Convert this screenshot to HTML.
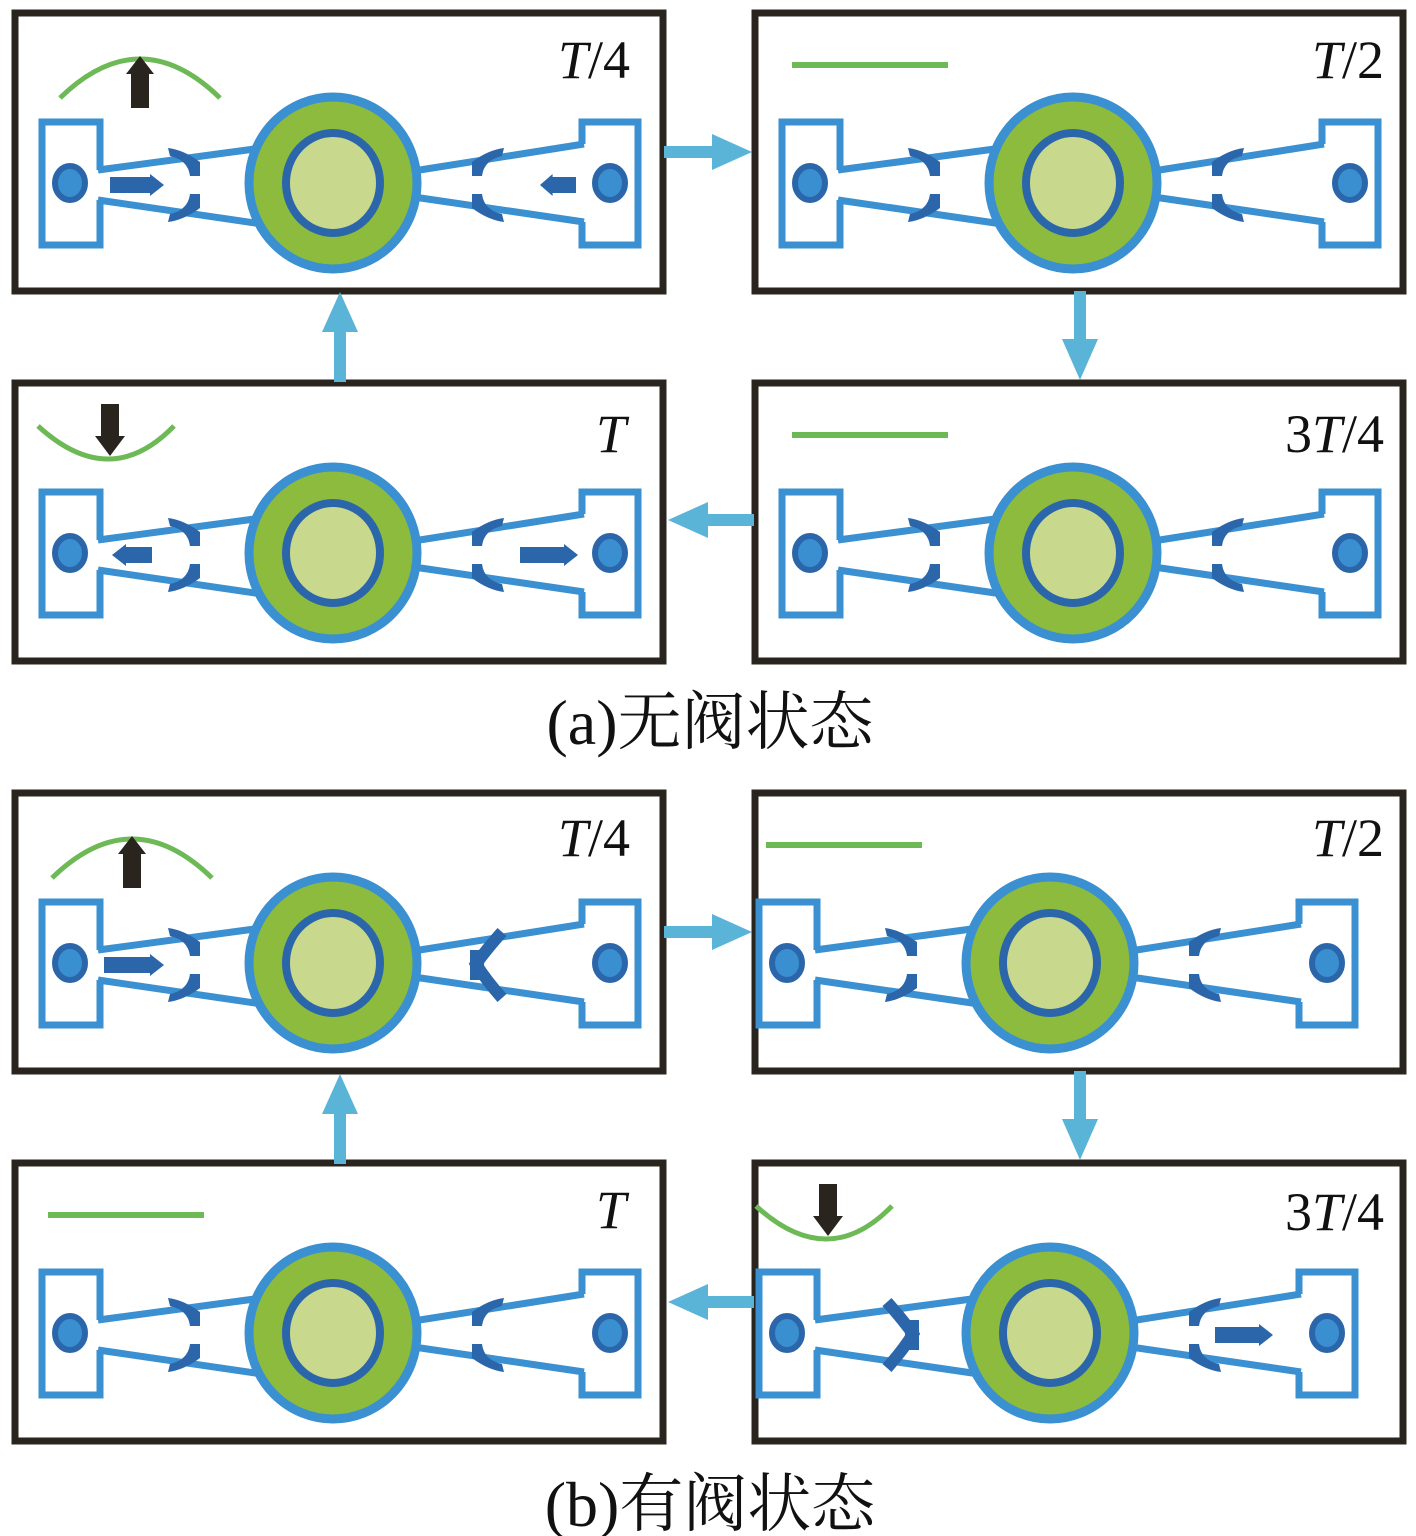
<!DOCTYPE html>
<html><head><meta charset="utf-8"><style>
html,body{margin:0;padding:0;background:#fff;width:1416px;height:1536px;overflow:hidden}
svg{display:block}
.lbl{font-family:"Liberation Serif",serif;font-size:54px;fill:#111}
.cap{font-family:"Liberation Serif","Noto Serif CJK SC",serif;font-size:64px;fill:#111}
</style></head><body>
<svg id="s" width="1416" height="1536" viewBox="0 0 1416 1536" xmlns="http://www.w3.org/2000/svg">
<defs>
<clipPath id="pc"><rect x="0" y="0" width="648" height="278"/></clipPath>
</defs>
<g id="panels"></g>
<g fill="#5ab4d8" stroke="none">
  <rect x="664" y="146" width="50" height="12"/><polygon points="712,134 752,152 712,170"/>
  <rect x="1074" y="291" width="12" height="50"/><polygon points="1062,339 1080,380 1098,339"/>
  <rect x="706" y="514" width="48" height="12"/><polygon points="708,502 668,520 708,538"/>
  <rect x="334" y="330" width="12" height="52"/><polygon points="322,332 340,292 358,332"/>
  <rect x="664" y="926" width="50" height="12"/><polygon points="712,914 752,932 712,950"/>
  <rect x="1074" y="1071" width="12" height="50"/><polygon points="1062,1119 1080,1160 1098,1119"/>
  <rect x="706" y="1296" width="48" height="12"/><polygon points="708,1284 668,1302 708,1320"/>
  <rect x="334" y="1112" width="12" height="52"/><polygon points="322,1114 340,1074 358,1114"/>
</g>
<text class="lbl" x="630" y="78" text-anchor="end"><tspan font-style="italic">T</tspan>/4</text>
<text class="lbl" x="1384" y="78" text-anchor="end"><tspan font-style="italic">T</tspan>/2</text>
<text class="lbl" x="1384" y="452" text-anchor="end">3<tspan font-style="italic">T</tspan>/4</text>
<text class="lbl" x="626" y="452" text-anchor="end"><tspan font-style="italic">T</tspan></text>
<text class="lbl" x="630" y="856" text-anchor="end"><tspan font-style="italic">T</tspan>/4</text>
<text class="lbl" x="1384" y="856" text-anchor="end"><tspan font-style="italic">T</tspan>/2</text>
<text class="lbl" x="1384" y="1230" text-anchor="end">3<tspan font-style="italic">T</tspan>/4</text>
<text class="lbl" x="626" y="1228" text-anchor="end"><tspan font-style="italic">T</tspan></text>
<text class="cap" x="710" y="744" text-anchor="middle">(a)无阀状态</text>
<text class="cap" x="710" y="1526" text-anchor="middle">(b)有阀状态</text>
</svg>
<script>
var NS="http://www.w3.org/2000/svg";
var LB="#3a90d0",DB="#2b66aa",GR="#8cbb3e",LG="#c8d98e",MG="#6cb956",BK="#2a241f";
function el(p,t,a){var e=document.createElementNS(NS,t);for(var k in a)e.setAttribute(k,a[k]);p.appendChild(e);return e;}
function valve(g,x,side,state){
  var s=side;
  if(state==="open"){
    el(g,"path",{d:"M"+(x-12*s)+",146 Q"+(x+6*s)+",150 "+(x+8*s)+",166 L"+(x+18*s)+",166 L"+(x+18*s)+",152 Q"+(x+2*s)+",140 "+(x-14*s)+",138 Z",fill:DB});
    el(g,"path",{d:"M"+(x-12*s)+",204 Q"+(x+6*s)+",200 "+(x+8*s)+",184 L"+(x+18*s)+",184 L"+(x+18*s)+",198 Q"+(x+2*s)+",210 "+(x-14*s)+",212 Z",fill:DB});
  }else{
    el(g,"path",{d:"M"+(x-12*s)+",142 Q"+(x+4*s)+",160 "+(x+14*s)+",174 Q"+(x+4*s)+",190 "+(x-12*s)+",208",fill:"none",stroke:DB,"stroke-width":12});
    el(g,"rect",{x:(s>0?x+6:x-20),y:160,width:14,height:30,fill:DB});
  }
}
function flow(g,x1,x2,y){
  var d=x2>x1?1:-1;var L=Math.abs(x2-x1);var h=Math.min(14,L*0.35);
  el(g,"polygon",{points:[x1+","+(y-8),(x2-h*d)+","+(y-8),(x2-h*d)+","+(y-11),x2+","+y,(x2-h*d)+","+(y+11),(x2-h*d)+","+(y+8),x1+","+(y+8)].join(" "),fill:DB});
}
function panel(ox,oy,o){
  var root=document.getElementById("panels");
  var P=el(root,"g",{transform:"translate("+ox+","+oy+")"});
  el(P,"rect",{x:3,y:3,width:648,height:278,fill:"#fff",stroke:BK,"stroke-width":7});
  var g=el(P,"g",{"clip-path":"url(#pc)"});
  var g2=el(g,"g",{transform:"translate("+(o.sh||0)+",0)"});
  el(g2,"path",{d:"M88,160 L88,112 L30,112 L30,235 L88,235 L88,190",fill:"none",stroke:LB,"stroke-width":7});
  el(g2,"path",{d:"M570,134 L570,112 L626,112 L626,235 L570,235 L570,212",fill:"none",stroke:LB,"stroke-width":7});
  el(g2,"path",{d:"M86,160 L250,138 M86,190 L250,214 M395,162 L572,134 M395,186 L572,212",fill:"none",stroke:LB,"stroke-width":7});
  el(g2,"ellipse",{cx:58,cy:173,rx:15,ry:17,fill:"#3a8fd0",stroke:DB,"stroke-width":6});
  el(g2,"ellipse",{cx:598,cy:173,rx:15,ry:17,fill:"#3a8fd0",stroke:DB,"stroke-width":6});
  el(g2,"ellipse",{cx:321,cy:173,rx:84,ry:86,fill:GR,stroke:LB,"stroke-width":9});
  el(g2,"ellipse",{cx:321,cy:173,rx:47,ry:50,fill:LG,stroke:DB,"stroke-width":8});
  valve(g2,170,1,o.vl);
  valve(g2,478,-1,o.vr);
  if(o.fl)flow(g2,o.fl[0],o.fl[1],175);
  if(o.fr)flow(g2,o.fr[0],o.fr[1],175);
  var m=o.m,mx=o.mx;
  if(m==="up"){
    el(P,"path",{d:"M"+(mx-80)+",88 Q"+mx+",10 "+(mx+80)+",88",fill:"none",stroke:MG,"stroke-width":5});
    el(P,"polygon",{points:(mx-9)+",98 "+(mx-9)+",64 "+(mx-14)+",64 "+mx+",46 "+(mx+14)+",64 "+(mx+9)+",64 "+(mx+9)+",98",fill:BK});
  }else if(m==="down"){
    el(P,"path",{d:"M"+(mx-72)+",46 Q"+mx+",112 "+(mx+64)+",46",fill:"none",stroke:MG,"stroke-width":5});
    el(P,"polygon",{points:(mx-9)+",24 "+(mx-9)+",56 "+(mx-15)+",56 "+mx+",76 "+(mx+15)+",56 "+(mx+9)+",56 "+(mx+9)+",24",fill:BK});
  }else if(m==="flat"){
    el(P,"rect",{x:mx-78,y:o.my-3,width:156,height:6,fill:MG});
  }
}
panel(12,10,{vl:"open",vr:"open",fl:[98,152],fr:[564,528],m:"up",mx:128});
panel(752,10,{vl:"open",vr:"open",m:"flat",mx:118,my:55});
panel(752,380,{vl:"open",vr:"open",m:"flat",mx:118,my:55});
panel(12,380,{vl:"open",vr:"open",fl:[140,100],fr:[508,566],m:"down",mx:98});
panel(12,790,{vl:"open",vr:"closed",fl:[92,152],m:"up",mx:120});
panel(752,790,{sh:-23,vl:"open",vr:"open",m:"flat",mx:92,my:55});
panel(752,1160,{sh:-23,vl:"closed",vr:"open",fr:[486,544],m:"down",mx:76});
panel(12,1160,{vl:"open",vr:"open",m:"flat",mx:114,my:55});
</script>
</body></html>
